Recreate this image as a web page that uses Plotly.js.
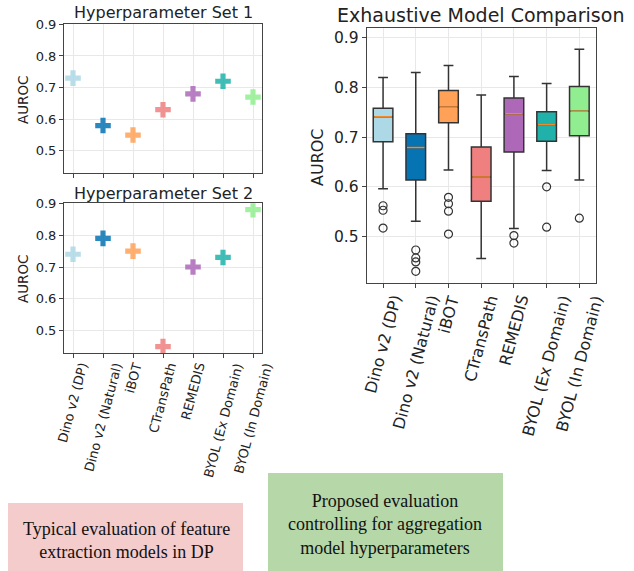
<!DOCTYPE html>
<html>
<head>
<meta charset="utf-8">
<script src="https://cdn.plot.ly/plotly-3.0.1.min.js"></script>
<style>
html,body{margin:0;padding:0;background:#fff;}
#chart{width:634px;height:571px;}
</style>
</head>
<body>
<div id="chart"></div>
<script>
// ---- data ----
const models = ['Dino v2 (DP)', 'Dino v2 (Natural)', 'iBOT', 'CTransPath', 'REMEDIS', 'BYOL (Ex Domain)', 'BYOL (In Domain)'];
const modelColors = ['#add8e6', '#0673b3', '#ffa157', '#f08080', '#ad68b8', '#20b2aa', '#90ee90'];
const set1 = [0.73, 0.58, 0.55, 0.63, 0.68, 0.72, 0.67];
const set2 = [0.74, 0.79, 0.75, 0.45, 0.70, 0.73, 0.88];
const boxLower  = [0.596, 0.531, 0.634, 0.456, 0.516, 0.633, 0.614];
const boxQ1     = [0.691, 0.614, 0.729, 0.571, 0.670, 0.692, 0.703];
const boxMedian = [0.741, 0.679, 0.760, 0.620, 0.747, 0.725, 0.752];
const boxQ3     = [0.758, 0.707, 0.794, 0.680, 0.779, 0.751, 0.802];
const boxUpper  = [0.820, 0.830, 0.844, 0.785, 0.822, 0.808, 0.877];
const outliers  = [[0.562, 0.553, 0.517], [0.473, 0.457, 0.449, 0.430], [0.579, 0.566, 0.551, 0.505], [], [0.502, 0.487], [0.600, 0.519], [0.537]];
const yTicks = [0.5, 0.6, 0.7, 0.8, 0.9];
const yTickText = ['0.5', '0.6', '0.7', '0.8', '0.9'];
const leftCaption = 'Typical evaluation of feature<br>extraction models in DP';
const rightCaption = 'Proposed evaluation<br>controlling for aggregation<br>model hyperparameters';

// ---- build ----
const pos = models.map((m, i) => i);
const W = 634, H = 571;
const px = v => v / W;
const py = v => 1 - v / H;
const FONT = 'DejaVu Sans, sans-serif';
const INK = '#222';
const BOXW = 0.6;

const traces = [];
traces.push({
  type: 'scatter', mode: 'markers', x: pos, y: set1, xaxis: 'x', yaxis: 'y',
  marker: {symbol: 'cross', size: 13, color: modelColors, opacity: 0.85, line: {width: 0}},
  hoverinfo: 'skip'
});
traces.push({
  type: 'scatter', mode: 'markers', x: pos, y: set2, xaxis: 'x2', yaxis: 'y2',
  marker: {symbol: 'cross', size: 13, color: modelColors, opacity: 0.85, line: {width: 0}},
  hoverinfo: 'skip'
});
models.forEach((m, i) => {
  traces.push({
    type: 'box', xaxis: 'x3', yaxis: 'y3',
    x: [i], q1: [boxQ1[i]], median: [boxMedian[i]], q3: [boxQ3[i]],
    lowerfence: [boxLower[i]], upperfence: [boxUpper[i]],
    width: BOXW, whiskerwidth: 0.5, boxpoints: false,
    fillcolor: modelColors[i], line: {color: '#333', width: 1.5},
    hoverinfo: 'skip'
  });
});
// median lines (orange)
const medX = [], medY = [];
models.forEach((m, i) => {
  medX.push(i - BOXW / 2 + 0.03, i + BOXW / 2 - 0.03, null);
  medY.push(boxMedian[i], boxMedian[i], null);
});
traces.push({
  type: 'scatter', mode: 'lines', x: medX, y: medY, xaxis: 'x3', yaxis: 'y3',
  line: {color: '#f28a2a', width: 1.5}, hoverinfo: 'skip', connectgaps: false
});
// outliers
const oX = [], oY = [];
outliers.forEach((arr, i) => arr.forEach(v => { oX.push(i); oY.push(v); }));
traces.push({
  type: 'scatter', mode: 'markers', x: oX, y: oY, xaxis: 'x3', yaxis: 'y3',
  marker: {symbol: 'circle-open', size: 8, color: '#333', line: {width: 1.2}},
  hoverinfo: 'skip'
});

const axBase = {
  showline: true, mirror: true, linecolor: '#444', linewidth: 1,
  ticks: 'outside', ticklen: 4, tickcolor: '#444', tickwidth: 1,
  showgrid: true, gridcolor: '#e8e8e8', gridwidth: 1, zeroline: false,
  fixedrange: true
};
const xLeft = Object.assign({}, axBase, {domain: [px(64), px(262)], range: [-0.3, 6.3], tickvals: pos, showticklabels: false});
const yLeftFont = {family: FONT, size: 13, color: INK};

const layout = {
  width: W, height: H, margin: {l: 0, r: 0, t: 0, b: 0},
  paper_bgcolor: '#fff', plot_bgcolor: '#fff', showlegend: false,
  font: {family: FONT, color: INK},
  xaxis: Object.assign({}, xLeft, {anchor: 'y'}),
  yaxis: Object.assign({}, axBase, {domain: [py(173), py(24.3)], range: [0.43, 0.9], tickvals: yTicks, ticktext: yTickText, tickfont: yLeftFont, anchor: 'x'}),
  xaxis2: Object.assign({}, xLeft, {anchor: 'y2'}),
  yaxis2: Object.assign({}, axBase, {domain: [py(353), py(203.3)], range: [0.43, 0.9], tickvals: yTicks, ticktext: yTickText, tickfont: yLeftFont, anchor: 'x2'}),
  xaxis3: Object.assign({}, axBase, {domain: [px(366.7), px(595.7)], range: [-0.5, 6.5], tickvals: pos, showticklabels: false, anchor: 'y3'}),
  yaxis3: Object.assign({}, axBase, {domain: [py(283.3), py(28.3)], range: [0.406, 0.919], tickvals: yTicks, ticktext: yTickText, tickfont: {family: FONT, size: 15.5, color: INK}, anchor: 'x3'}),
  shapes: [
    {type: 'rect', xref: 'paper', yref: 'paper', x0: px(8), x1: px(243), y0: py(571), y1: py(503), fillcolor: '#f4cccc', line: {width: 0}, layer: 'below'},
    {type: 'rect', xref: 'paper', yref: 'paper', x0: px(268), x1: px(503), y0: py(571), y1: py(473), fillcolor: '#b6d7a8', line: {width: 0}, layer: 'below'}
  ],
  annotations: []
};
const A = layout.annotations;
A.push({text: 'Hyperparameter Set 1', xref: 'paper', yref: 'paper', x: px(163), y: py(13), xanchor: 'center', yanchor: 'middle', showarrow: false, font: {family: FONT, size: 16, color: INK}});
A.push({text: 'Hyperparameter Set 2', xref: 'paper', yref: 'paper', x: px(163), y: py(193), xanchor: 'center', yanchor: 'middle', showarrow: false, font: {family: FONT, size: 16, color: INK}});
A.push({text: 'Exhaustive Model Comparison', xref: 'paper', yref: 'paper', x: px(481), y: py(15), xanchor: 'center', yanchor: 'middle', showarrow: false, font: {family: FONT, size: 19, color: INK}});
A.push({text: 'AUROC', xref: 'paper', yref: 'paper', x: px(23), y: py(100), textangle: -90, xanchor: 'center', yanchor: 'middle', showarrow: false, font: {family: FONT, size: 13.5, color: INK}});
A.push({text: 'AUROC', xref: 'paper', yref: 'paper', x: px(23), y: py(279), textangle: -90, xanchor: 'center', yanchor: 'middle', showarrow: false, font: {family: FONT, size: 13.5, color: INK}});
A.push({text: 'AUROC', xref: 'paper', yref: 'paper', x: px(318), y: py(157), textangle: -90, xanchor: 'center', yanchor: 'middle', showarrow: false, font: {family: FONT, size: 16, color: INK}});
models.forEach((m, i) => {
  A.push({text: m, xref: 'x2', yref: 'paper', x: i, y: py(360), textangle: -75, xanchor: 'center', yanchor: 'top', showarrow: false, font: {family: FONT, size: 13, color: INK}, borderpad: 0});
  A.push({text: m, xref: 'x3', yref: 'paper', x: i, y: py(292), textangle: -75, xanchor: 'center', yanchor: 'top', showarrow: false, font: {family: FONT, size: 16, color: INK}, borderpad: 0});
});
A.push({text: leftCaption, xref: 'paper', yref: 'paper', x: px(126), y: py(540), xanchor: 'center', yanchor: 'middle', showarrow: false, font: {family: 'Liberation Serif, serif', size: 18, color: '#111'}});
A.push({text: rightCaption, xref: 'paper', yref: 'paper', x: px(385), y: py(524), xanchor: 'center', yanchor: 'middle', showarrow: false, font: {family: 'Liberation Serif, serif', size: 18, color: '#111'}});

Plotly.newPlot('chart', traces, layout, {staticPlot: true, displayModeBar: false});
</script>
</body>
</html>
